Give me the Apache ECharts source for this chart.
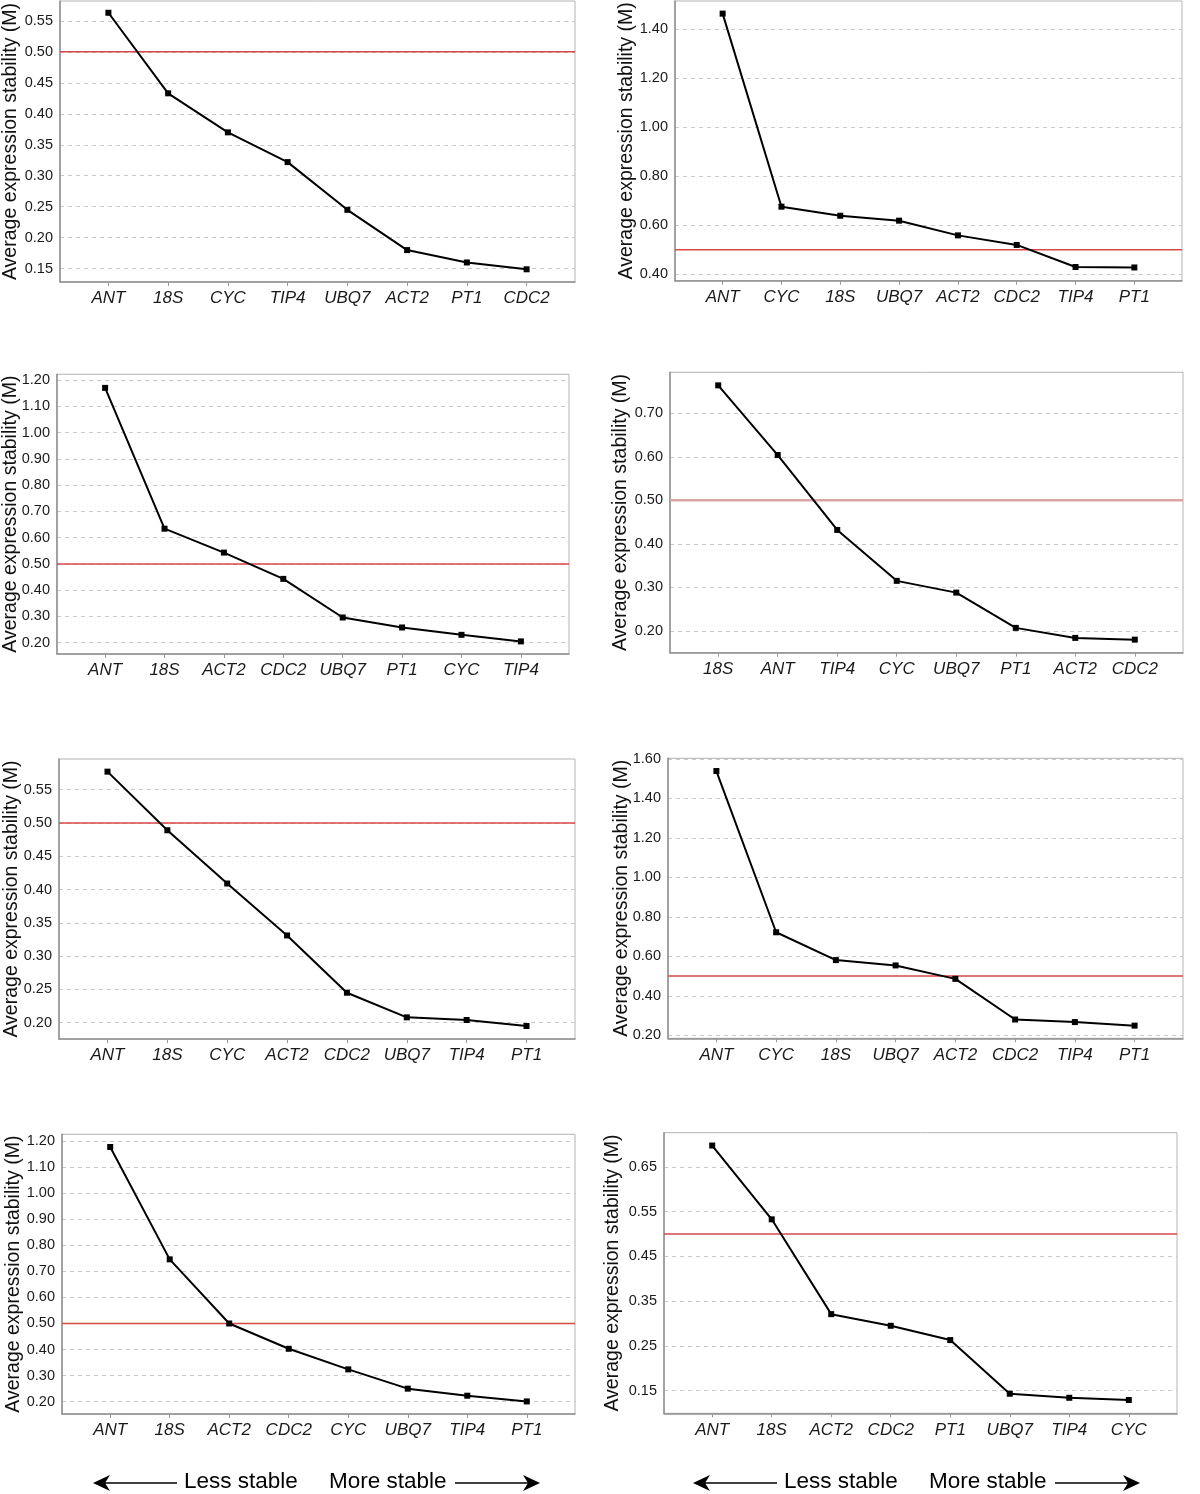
<!DOCTYPE html>
<html><head><meta charset="utf-8">
<script src="https://cdn.jsdelivr.net/npm/echarts@6/dist/echarts.min.js"></script>
<style>html,body{margin:0;padding:0;background:#fff}#c{width:1200px;height:1494px}</style>
</head><body><div id="c"></div>
<script>
// ---------- data ----------
const threshold = 0.5;
const yTitle = 'Average expression stability (M)';
const lessLabel = 'Less stable';
const moreLabel = 'More stable';

const cats1 = ['ANT','18S','CYC','TIP4','UBQ7','ACT2','PT1','CDC2'];
const vals1 = [0.563, 0.433, 0.370, 0.322, 0.245, 0.180, 0.160, 0.149];
const ticks1 = [0.15, 0.20, 0.25, 0.30, 0.35, 0.40, 0.45, 0.50, 0.55];

const cats2 = ['ANT','CYC','18S','UBQ7','ACT2','CDC2','TIP4','PT1'];
const vals2 = [1.464, 0.676, 0.639, 0.619, 0.559, 0.520, 0.430, 0.428];
const ticks2 = [0.40, 0.60, 0.80, 1.00, 1.20, 1.40];

const cats3 = ['ANT','18S','ACT2','CDC2','UBQ7','PT1','CYC','TIP4'];
const vals3 = [1.170, 0.634, 0.543, 0.443, 0.296, 0.258, 0.230, 0.205];
const ticks3 = [0.20, 0.30, 0.40, 0.50, 0.60, 0.70, 0.80, 0.90, 1.00, 1.10, 1.20];

const cats4 = ['18S','ANT','TIP4','CYC','UBQ7','PT1','ACT2','CDC2'];
const vals4 = [0.764, 0.604, 0.432, 0.315, 0.288, 0.207, 0.184, 0.180];
const ticks4 = [0.20, 0.30, 0.40, 0.50, 0.60, 0.70];

const cats5 = ['ANT','18S','CYC','ACT2','CDC2','UBQ7','TIP4','PT1'];
const vals5 = [0.577, 0.489, 0.409, 0.331, 0.245, 0.208, 0.204, 0.195];
const ticks5 = [0.20, 0.25, 0.30, 0.35, 0.40, 0.45, 0.50, 0.55];

const cats6 = ['ANT','CYC','18S','UBQ7','ACT2','CDC2','TIP4','PT1'];
const vals6 = [1.539, 0.722, 0.581, 0.554, 0.486, 0.280, 0.267, 0.249];
const ticks6 = [0.20, 0.40, 0.60, 0.80, 1.00, 1.20, 1.40, 1.60];

const cats7 = ['ANT','18S','ACT2','CDC2','CYC','UBQ7','TIP4','PT1'];
const vals7 = [1.177, 0.746, 0.500, 0.403, 0.324, 0.250, 0.223, 0.201];
const ticks7 = [0.20, 0.30, 0.40, 0.50, 0.60, 0.70, 0.80, 0.90, 1.00, 1.10, 1.20];

const cats8 = ['ANT','18S','ACT2','CDC2','PT1','UBQ7','TIP4','CYC'];
const vals8 = [0.698, 0.533, 0.321, 0.295, 0.263, 0.143, 0.134, 0.129];
const ticks8 = [0.15, 0.25, 0.35, 0.45, 0.55, 0.65];

// ---------- layout ----------
// frame: [left, top, right, bottom]; yr: visible y range
const panels = [
  {cats: cats1, vals: vals1, ticks: ticks1, frame: [60, 1, 575, 282],        yr: [0.1285, 0.582],  titleX: 11},
  {cats: cats2, vals: vals2, ticks: ticks2, frame: [675, 1, 1182, 280.7],    yr: [0.374, 1.5155],  titleX: 627},
  {cats: cats3, vals: vals3, ticks: ticks3, frame: [57, 374.3, 569, 654],    yr: [0.157, 1.2217],  titleX: 11},
  {cats: cats4, vals: vals4, ticks: ticks4, frame: [670, 372.3, 1183, 652.7],yr: [0.150, 0.794],   titleX: 621, thick: true},
  {cats: cats5, vals: vals5, ticks: ticks5, frame: [59, 759, 575, 1039],     yr: [0.1755, 0.596],  titleX: 12},
  {cats: cats6, vals: vals6, ticks: ticks6, frame: [668, 758.3, 1183, 1038.3],yr:[0.1848, 1.6035], titleX: 622},
  {cats: cats7, vals: vals7, ticks: ticks7, frame: [62, 1134.3, 575, 1414],  yr: [0.1528, 1.2257], titleX: 14},
  {cats: cats8, vals: vals8, ticks: ticks8, frame: [664, 1132.7, 1177, 1413.3],yr:[0.0993, 0.7267], titleX: 613}
];
const XPAD = 0.81;
const FONT = '"Liberation Sans", Arial, Helvetica, sans-serif';

const grids = [], xAxes = [], yAxes = [], series = [], graphics = [];
panels.forEach((p, k) => {
  const [l, t, r, b] = p.frame;
  grids.push({left: l, top: t, width: r - l, height: b - t, show: true,
    borderColor: '#b4b4b4', borderWidth: 1, backgroundColor: '#fff', containLabel: false});
  const idx = p.cats.map((c, i) => i);
  const xMin = -XPAD, xMax = p.cats.length - 1 + XPAD;
  xAxes.push({
    type: 'value', gridIndex: k, min: xMin, max: xMax,
    axisLine: {show: true, onZero: false, lineStyle: {color: '#8f8f8f', width: 1.5}},
    axisTick: {show: true, customValues: idx, length: 4, lineStyle: {color: '#999'}},
    axisLabel: {customValues: idx, formatter: v => p.cats[Math.round(v)],
      fontStyle: 'italic', fontSize: 17, color: '#1a1a1a', fontFamily: FONT, margin: 8},
    splitLine: {show: false}
  });
  yAxes.push({
    type: 'value', gridIndex: k, min: p.yr[0], max: p.yr[1],
    axisLine: {show: true, onZero: false, lineStyle: {color: '#8f8f8f', width: 1.5}},
    axisTick: {show: false, customValues: p.ticks},
    axisLabel: {customValues: p.ticks, formatter: v => v.toFixed(2),
      fontSize: 14.5, color: '#1a1a1a', fontFamily: FONT, margin: 7},
    splitLine: {show: true, lineStyle: {color: '#c9c9c9', type: [4, 4], width: 1}}
  });
  // threshold reference line (M = 0.5), spans the whole x extent
  series.push({
    type: 'line', xAxisIndex: k, yAxisIndex: k, silent: true, z: 3,
    data: [[xMin, threshold], [xMax, threshold]],
    showSymbol: false, symbol: 'none',
    lineStyle: p.thick ? {color: '#dba5a5', width: 2.5} : {color: '#d94848', width: 1.5},
    emphasis: {disabled: true}
  });
  series.push({
    type: 'line', xAxisIndex: k, yAxisIndex: k,
    data: p.cats.map((c, i) => [i, p.vals[i]]),
    symbol: 'rect', symbolSize: 6, showSymbol: true,
    lineStyle: {color: '#000', width: 2}, itemStyle: {color: '#000'},
    z: 5, silent: true, emphasis: {disabled: true}
  });
  graphics.push({
    type: 'text', x: p.titleX, y: (t + b) / 2, rotation: Math.PI / 2,
    style: {text: yTitle, font: '19.5px ' + FONT, fill: '#111', textAlign: 'center', textVerticalAlign: 'middle'}
  });
});

function stabilityArrows(ox) {
  const y = 1483;
  return [
    {type: 'line', shape: {x1: ox + 104, y1: y, x2: ox + 177, y2: y}, style: {stroke: '#000', lineWidth: 1.6}},
    {type: 'polygon', shape: {points: [[ox + 93, y], [ox + 110, y - 8], [ox + 105, y], [ox + 110, y + 8]]}, style: {fill: '#000'}},
    {type: 'text', x: ox + 184, y: y - 1, style: {text: lessLabel, font: '22.5px ' + FONT, fill: '#000', textAlign: 'left', textVerticalAlign: 'middle'}},
    {type: 'text', x: ox + 329, y: y - 1, style: {text: moreLabel, font: '22.5px ' + FONT, fill: '#000', textAlign: 'left', textVerticalAlign: 'middle'}},
    {type: 'line', shape: {x1: ox + 455, y1: y, x2: ox + 528, y2: y}, style: {stroke: '#000', lineWidth: 1.6}},
    {type: 'polygon', shape: {points: [[ox + 540, y], [ox + 523, y - 8], [ox + 528, y], [ox + 523, y + 8]]}, style: {fill: '#000'}}
  ];
}
graphics.push(...stabilityArrows(0), ...stabilityArrows(600));

const chart = echarts.init(document.getElementById('c'), null, {renderer: 'canvas'});
chart.setOption({
  animation: false, backgroundColor: '#fff',
  grid: grids, xAxis: xAxes, yAxis: yAxes, series: series, graphic: graphics
});
</script></body></html>
